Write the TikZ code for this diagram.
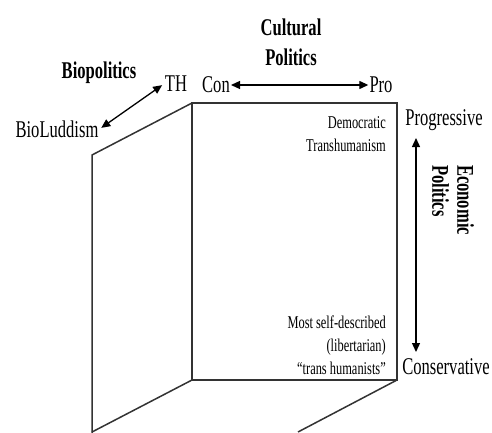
\documentclass[tikz,border=0pt]{standalone}
\usepackage{fontspec}
\setmainfont[FakeStretch=0.69]{Liberation Serif}
\usetikzlibrary{arrows.meta}
\tikzset{
  edge/.style={line width=1.5pt, draw=black!80},
  lbl/.style={font=\fontsize{24}{26}\selectfont, inner sep=1pt},
  blbl/.style={font=\fontsize{24}{30}\selectfont\bfseries, inner sep=1pt, align=center},
  inner/.style={font=\fontsize{18}{23}\selectfont, inner sep=1pt, align=right, anchor=east},
  axis/.style={line width=1.3pt, draw=black, {Triangle[length=9pt,width=8pt]}-{Triangle[length=9pt,width=8pt]}},
}
\begin{document}
\begin{tikzpicture}[x=1pt,y=-1pt]
\useasboundingbox (0,0) rectangle (492,433);
% cube faces
\draw[edge] (192,103) rectangle (397,380);
\draw[edge] (192,103) -- (92,155) -- (92,433);
\draw[edge] (192,380) -- (92,432);
\draw[edge] (397,380) -- (298,432);
% labels
\node[blbl] (cult) at (291,42) {Cultural\\Politics};
\node[blbl] (biop) at (99,73) {Biopolitics};
\node[lbl] (th) at (176,84) {TH};
\node[lbl] (con) at (216,85) {Con};
\node[lbl] (pro) at (381,85) {Pro};
\node[lbl] (bio) at (57,129) {BioLuddism};
\node[lbl] (prog) at (444,120) {Progressive};
\node[lbl] (cons) at (446,367) {Conservative};
\node[font=\fontsize{24}{25}\selectfont\bfseries, inner sep=1pt, rotate=-90, align=left] (econ) at (453,200) {Economic\\Politics};
\node[inner] (demo) at (387,134) {Democratic\\Transhumanism};
\node[inner] (most) at (387,345) {Most self-described\\(libertarian)\\``trans humanists''};
% axes
\coordinate (eu) at (416,138);
\coordinate (ed) at (416,352);
\draw[axis] (con.east) -- (pro.west);
\draw[axis, shorten <=2pt, shorten >=2pt] (bio.east) -- (th.west);
\draw[axis] (eu) -- (ed);
\end{tikzpicture}
\end{document}
